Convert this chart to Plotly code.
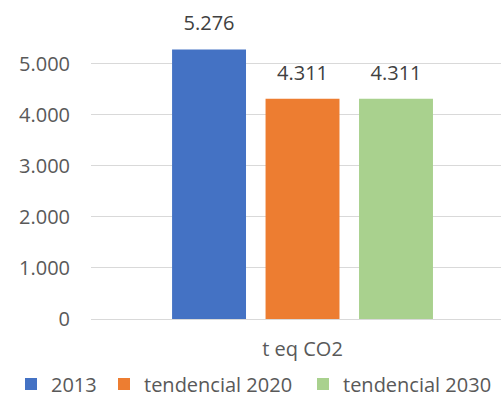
import plotly.graph_objects as go

category = ["t eq CO2"]
series_names = ["2013", "tendencial 2020", "tendencial 2030"]
series_values = [5276, 4311, 4311]
series_colors = ["#4472C4", "#ED7D31", "#A9D18E"]
y_ticks = [0, 1000, 2000, 3000, 4000, 5000]

FONT = "Open Sans"
legend_ids = ["legend", "legend2", "legend3"]
legend_x = [11, 104, 303]  # left edge of each legend entry, px

fig = go.Figure()

for name, val, col, lg in zip(series_names, series_values, series_colors, legend_ids):
    fig.add_trace(go.Bar(
        x=category, y=[val], name=name, offsetgroup=name, legend=lg,
        marker=dict(color=col, line=dict(width=0)),
        hoverinfo="skip",
    ))

# data labels: invisible markers grouped like the bars, text sitting above them
for name, val in zip(series_names, series_values):
    fig.add_trace(go.Scatter(
        x=category, y=[val], offsetgroup=name, mode="markers+text",
        text=[f"{val:,}".replace(",", ".")], textposition="top center",
        textfont=dict(size=20, color="#404040", family=FONT),
        marker=dict(size=21, opacity=0), cliponaxis=False,
        showlegend=False, hoverinfo="skip",
    ))

W, H = 501, 397
legends = {}
for lg, lx in zip(legend_ids, legend_x):
    legends[lg] = dict(orientation="h", xref="container", yref="container",
                       x=lx / W, xanchor="left", y=1 - 384 / H, yanchor="middle",
                       font=dict(size=20, color="#595959"), bgcolor="rgba(0,0,0,0)")

fig.update_layout(
    width=W, height=H,
    margin=dict(l=91, r=0, t=38, b=78, autoexpand=False),
    paper_bgcolor="white", plot_bgcolor="white",
    font=dict(family=FONT, size=20, color="#595959"),
    separators=",.",
    barmode="group", bargap=0.316, bargroupgap=0.209,
    scattermode="group", scattergap=0.316,
    showlegend=True,
    **legends,
)
fig.update_xaxes(
    type="category", range=[-0.5159, 0.4841], automargin=False,
    showgrid=False, showline=False, ticks="", ticklabelstandoff=16,
    tickfont=dict(size=20, color="#595959"),
)
fig.update_yaxes(
    range=[0, 5500], tickvals=y_ticks, tickformat=",d", automargin=False,
    showgrid=True, gridcolor="#D9D9D9", gridwidth=1,
    zeroline=True, zerolinecolor="#D9D9D9", zerolinewidth=1,
    showline=False, ticks="", ticklabelstandoff=20,
    tickfont=dict(size=20, color="#595959"),
)

fig.write_html("out.html", config={"displayModeBar": False},
               post_script="document.body.style.margin='0';")
